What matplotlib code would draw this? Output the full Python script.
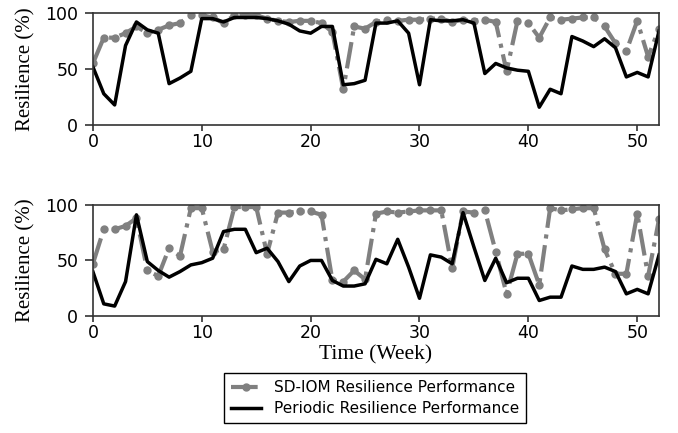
import matplotlib
matplotlib.use('Agg')
import matplotlib.pyplot as plt
import numpy as np

weeks = np.arange(0, 53)

# top panel
sd_top = [55, 78, 78, 82, 88, 82, 85, 89, 91, 98, 98, 96, 91, 98, 98, 98, 95, 93, 92, 93,
          93, 91, 83, 32, 88, 86, 92, 94, 93, 94, 94, 95, 95, 92, 94, 93, 94, 92, 48, 93,
          91, 78, 96, 94, 95, 96, 96, 88, 73, 66, 93, 61, 86]
per_top = [52, 28, 18, 71, 92, 85, 82, 37, 42, 48, 95, 95, 92, 96, 96, 96, 95, 93, 90, 84,
           82, 88, 88, 36, 37, 40, 91, 91, 93, 82, 36, 94, 93, 93, 94, 91, 46, 55, 51, 49,
           48, 16, 32, 28, 79, 75, 70, 77, 69, 43, 47, 43, 84]

# bottom panel
sd_bot = [47, 78, 78, 81, 88, 41, 36, 61, 54, 97, 97, 58, 60, 98, 98, 98, 56, 93, 93, 94,
          94, 91, 32, 31, 41, 33, 92, 94, 93, 94, 95, 95, 95, 43, 94, 93, 95, 58, 20, 56,
          56, 28, 97, 95, 96, 97, 97, 60, 38, 38, 92, 36, 87]
per_bot = [40, 11, 9, 31, 91, 49, 41, 35, 40, 46, 48, 52, 76, 78, 78, 57, 61, 49, 31, 45,
           50, 50, 32, 27, 27, 29, 51, 47, 69, 44, 16, 55, 53, 47, 93, 62, 32, 52, 30, 34,
           34, 14, 17, 17, 45, 42, 42, 44, 40, 20, 24, 20, 55]

fig = plt.figure(figsize=(6.78, 4.33), dpi=100)
ax1 = fig.add_axes([0.137, 0.711, 0.835, 0.259])
ax2 = fig.add_axes([0.137, 0.270, 0.835, 0.257])

serif = ['Liberation Serif', 'DejaVu Serif']

for ax, sd, per in [(ax1, sd_top, per_top), (ax2, sd_bot, per_bot)]:
    l1, = ax.plot(weeks, sd, '-.', color='#808080', lw=3, marker='o', markersize=5,
                  label='SD-IOM Resilience Performance')
    l2, = ax.plot(weeks, per, '-', color='black', lw=2.5,
                  label='Periodic Resilience Performance')
    ax.set_xlim(0, 52)
    ax.set_ylim(0, 100)
    ax.set_yticks([0, 50, 100])
    ax.set_xticks([0, 10, 20, 30, 40, 50])
    ax.tick_params(labelsize=12.5, color='#333333', width=1.2)
    ax.tick_params(axis='x', length=4, pad=2)
    ax.tick_params(axis='y', length=6, pad=4.5)
    for s in ax.spines.values():
        s.set_color('#333333')
        s.set_linewidth(1.2)
    ax.set_ylabel('Resilience (%)', family=serif, fontsize=15, labelpad=7)

ax2.set_xlabel('Time (Week)', family=serif, fontsize=15.5, labelpad=2)

leg = fig.legend(handles=[l1, l2], loc='center', bbox_to_anchor=(0.553, 0.081),
                 fontsize=11, fancybox=False, edgecolor='black', framealpha=1,
                 borderpad=0.45, labelspacing=0.4, handlelength=2.0)
leg.get_frame().set_linewidth(1.0)

plt.savefig('out.png', dpi=100)
